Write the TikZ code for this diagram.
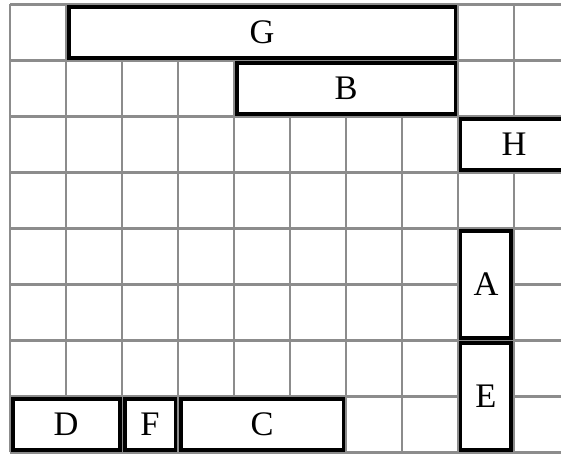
\documentclass[tikz,border=0pt]{standalone}
\usepackage{fontspec}
\setmainfont{Liberation Serif}
\usepackage{tikz}
\usetikzlibrary{positioning}
\definecolor{GridGray}{RGB}{140,140,140}

\begin{document}
\begin{tikzpicture}[x=1cm,y=1cm,
    blk/.style={draw, line width=2pt, fill=white, inner sep=0pt,
      font=\fontsize{17.5}{20}\selectfont, minimum height=0.91cm},
  ]
      \useasboundingbox (-0.18,-0.02) rectangle (9.84,8.08);
      \clip (-0.18,-0.02) rectangle (9.84,8.08);
      \draw[GridGray, line width=1.2pt] (0,0) grid (10,8);
      % pieces on the board
      \node[blk, minimum width=6.91cm] (g) at (4.5,7.5) {G};
      \node[blk, minimum width=3.91cm] (b) at (6,6.5) {B};
      \node[blk, minimum width=1.91cm] (h) at (9,5.5) {H};
      \node[blk, minimum width=0.91cm, minimum height=1.91cm] (a) at (8.5,3) {A};
      \node[blk, minimum width=0.91cm, minimum height=1.91cm] (e) at (8.5,1) {E};
      \node[blk, minimum width=1.91cm] (d) at (1,0.5) {D};
      \node[blk, minimum width=0.91cm] (f) at (2.5,0.5) {F};
      \node[blk, minimum width=2.91cm] (c) at (4.5,0.5) {C};
    \end{tikzpicture}
\end{document}
